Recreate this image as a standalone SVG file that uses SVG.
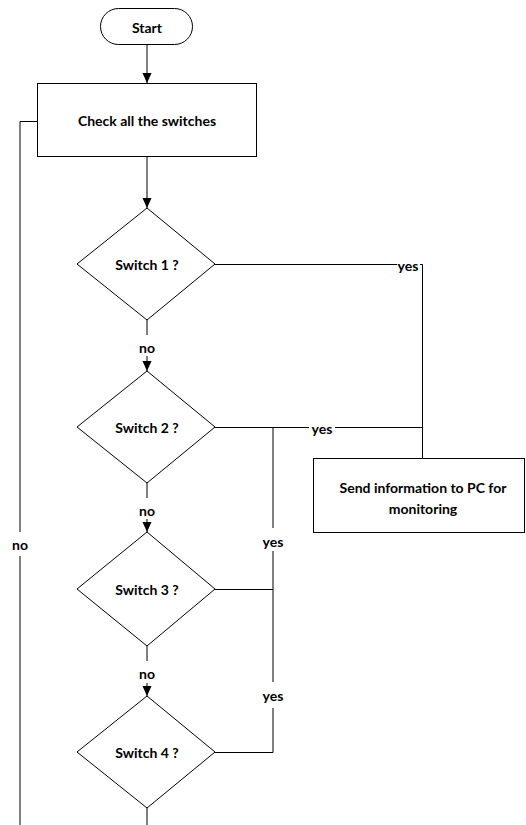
<svg xmlns="http://www.w3.org/2000/svg" width="526" height="825" viewBox="0 0 526 825">
<defs>
<style>
.shape{fill:#fff;stroke:#000;stroke-width:1}
.line{fill:none;stroke:#000;stroke-width:1}
.lbl{font-family:Lato,"Liberation Sans",sans-serif;font-weight:bold;font-size:14px;fill:#000;text-anchor:middle;dominant-baseline:central}
</style>
<marker id="arr" markerUnits="userSpaceOnUse" markerWidth="10" markerHeight="12" viewBox="0 0 10 12" refX="10" refY="6" orient="auto">
<path d="M0,1.5 L10,6 L0,10.5 Z" fill="#000"/>
</marker>
</defs>
<rect width="526" height="825" fill="#fff"/>
<g id="connectors">
<line class="line" x1="147" y1="45" x2="147" y2="83" marker-end="url(#arr)"/>
<line class="line" x1="147" y1="157" x2="147" y2="208" marker-end="url(#arr)"/>
<line class="line" x1="147" y1="320" x2="147" y2="335"/>
<line class="line" x1="147" y1="356" x2="147" y2="371" marker-end="url(#arr)"/>
<line class="line" x1="147" y1="483" x2="147" y2="498"/>
<line class="line" x1="147" y1="519" x2="147" y2="532" marker-end="url(#arr)"/>
<line class="line" x1="147" y1="646" x2="147" y2="661"/>
<line class="line" x1="147" y1="683" x2="147" y2="696" marker-end="url(#arr)"/>
<line class="line" x1="147" y1="808" x2="147" y2="825"/>
<line class="line" x1="215" y1="264.5" x2="397" y2="264.5"/>
<polyline class="line" points="420,264.5 422.5,264.5 422.5,458"/>
<line class="line" x1="215" y1="427.5" x2="309" y2="427.5"/>
<line class="line" x1="335" y1="427.5" x2="422.5" y2="427.5"/>
<line class="line" x1="273" y1="427.5" x2="273" y2="528"/>
<line class="line" x1="273" y1="551" x2="273" y2="682"/>
<polyline class="line" points="273,708 273,752.5 215,752.5"/>
<line class="line" x1="215" y1="589.5" x2="273" y2="589.5"/>
<polyline class="line" points="37,121.5 20,121.5 20,532"/>
<line class="line" x1="20" y1="556" x2="20" y2="825"/>
<text class="lbl" x="147" y="347">no</text>
<text class="lbl" x="147" y="510">no</text>
<text class="lbl" x="147" y="673">no</text>
<text class="lbl" x="20" y="544">no</text>
<text class="lbl" x="408" y="265">yes</text>
<text class="lbl" x="322" y="428">yes</text>
<text class="lbl" x="273" y="541">yes</text>
<text class="lbl" x="273" y="695">yes</text>
</g>
<g id="start">
<rect class="shape" x="100.5" y="8.5" width="92" height="36" rx="18"/>
<text class="lbl" x="147" y="27">Start</text>
</g>
<g id="check">
<rect class="shape" x="37.5" y="83.5" width="219" height="73"/>
<text class="lbl" x="147" y="120">Check all the switches</text>
</g>
<g id="switch1">
<polygon class="shape" points="147,208 215,264 147,320 77,264"/>
<text class="lbl" x="147" y="264">Switch 1 ?</text>
</g>
<g id="switch2">
<polygon class="shape" points="147,371 215,427 147,483 77,427"/>
<text class="lbl" x="147" y="427">Switch 2 ?</text>
</g>
<g id="switch3">
<polygon class="shape" points="147,532 215,589 147,646 77,589"/>
<text class="lbl" x="147" y="589">Switch 3 ?</text>
</g>
<g id="switch4">
<polygon class="shape" points="147,696 215,752 147,808 77,752"/>
<text class="lbl" x="147" y="752">Switch 4 ?</text>
</g>
<g id="send">
<rect class="shape" x="313.5" y="458.5" width="211" height="74"/>
<text class="lbl" x="423" y="487">Send information to PC for</text>
<text class="lbl" x="423" y="508">monitoring</text>
</g>
</svg>
